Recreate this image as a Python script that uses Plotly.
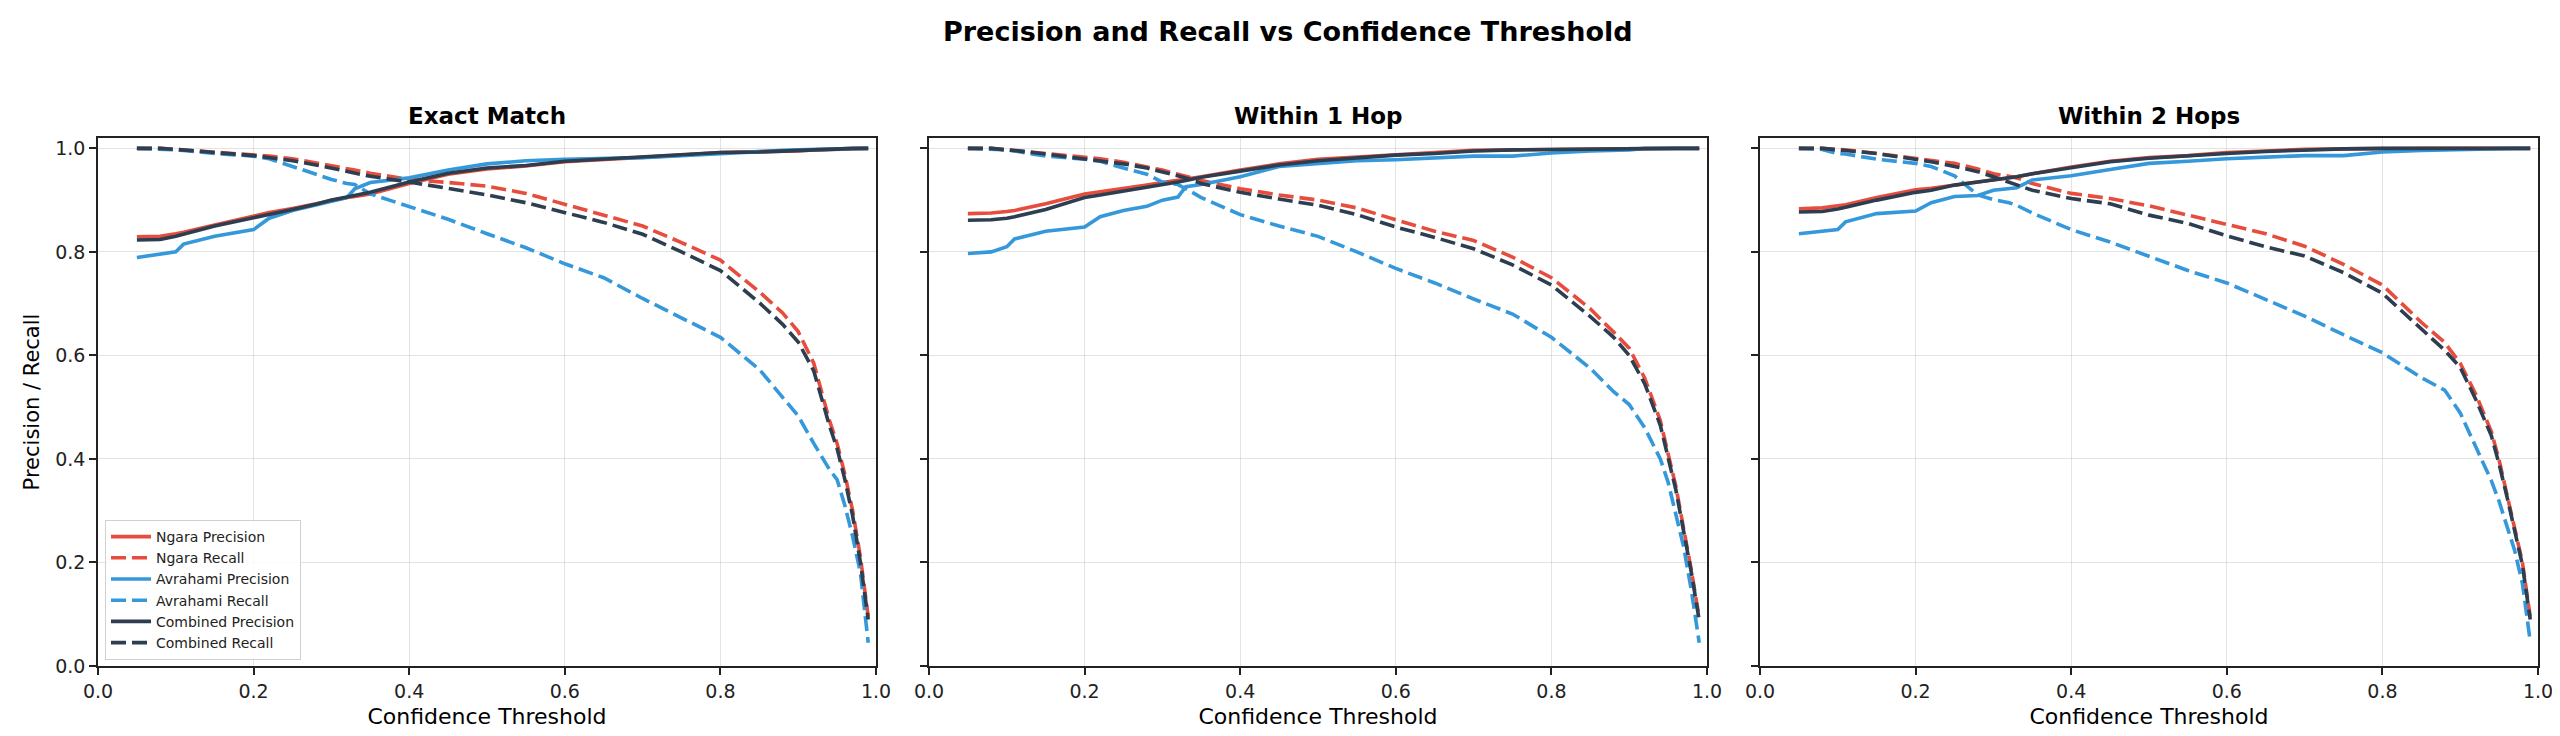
import plotly.graph_objects as go

# ---------------- data ----------------
thresholds = [0.05, 0.08, 0.10, 0.11, 0.15, 0.20, 0.22, 0.25, 0.28, 0.30, 0.32, 0.33, 0.35,
              0.40, 0.45, 0.50, 0.55, 0.60, 0.65, 0.70, 0.75, 0.80, 0.85, 0.88, 0.90,
              0.92, 0.94, 0.95, 0.96, 0.97, 0.98, 0.99]

panel_titles = ["Exact Match", "Within 1 Hop", "Within 2 Hops"]
series_names = ["Ngara Precision", "Ngara Recall", "Avrahami Precision", "Avrahami Recall",
                "Combined Precision", "Combined Recall"]

# Exact Match
exact_ngara_p = [0.829, 0.830, 0.835, 0.838, 0.852, 0.870, 0.876, 0.884, 0.893, 0.900, 0.905, 0.907, 0.912,
                 0.932, 0.950, 0.960, 0.966, 0.974, 0.978, 0.983, 0.987, 0.992, 0.993, 0.994, 0.995,
                 0.997, 0.998, 0.999, 1.0, 1.0, 1.0, 1.0]
exact_ngara_r = [1.0, 1.0, 0.998, 0.997, 0.993, 0.988, 0.985, 0.980, 0.972, 0.967, 0.962, 0.958, 0.952,
                 0.940, 0.934, 0.927, 0.913, 0.892, 0.872, 0.850, 0.818, 0.784, 0.723, 0.682, 0.646,
                 0.585, 0.475, 0.430, 0.370, 0.300, 0.210, 0.095]
exact_avr_p = [0.789, 0.795, 0.800, 0.815, 0.830, 0.843, 0.865, 0.880, 0.890, 0.897, 0.905, 0.922, 0.934,
               0.943, 0.958, 0.970, 0.976, 0.979, 0.980, 0.982, 0.986, 0.990, 0.995, 0.996, 0.997,
               0.998, 0.999, 1.0, 1.0, 1.0, 1.0, 1.0]
exact_avr_r = [1.0, 0.999, 0.997, 0.996, 0.990, 0.985, 0.980, 0.965, 0.950, 0.940, 0.932, 0.930, 0.912,
               0.888, 0.863, 0.835, 0.808, 0.777, 0.750, 0.710, 0.673, 0.635, 0.573, 0.520, 0.483,
               0.430, 0.380, 0.360, 0.310, 0.250, 0.180, 0.045]
exact_comb_p = [0.823, 0.824, 0.830, 0.834, 0.850, 0.866, 0.872, 0.882, 0.892, 0.900, 0.906, 0.909, 0.915,
                0.935, 0.952, 0.962, 0.967, 0.975, 0.979, 0.984, 0.988, 0.992, 0.993, 0.994, 0.995,
                0.997, 0.998, 0.999, 1.0, 1.0, 1.0, 1.0]
exact_comb_r = [1.0, 1.0, 0.998, 0.997, 0.992, 0.986, 0.982, 0.976, 0.968, 0.962, 0.955, 0.952, 0.946,
                0.935, 0.922, 0.910, 0.895, 0.876, 0.857, 0.834, 0.800, 0.764, 0.702, 0.660, 0.626,
                0.570, 0.465, 0.420, 0.360, 0.290, 0.200, 0.090]

# Within 1 Hop
hop1_ngara_p = [0.874, 0.875, 0.878, 0.880, 0.893, 0.912, 0.916, 0.922, 0.929, 0.934, 0.938, 0.940, 0.945,
                0.958, 0.970, 0.979, 0.983, 0.988, 0.992, 0.996, 0.997, 0.998, 0.999, 1.0, 1.0,
                1.0, 1.0, 1.0, 1.0, 1.0, 1.0, 1.0]
hop1_ngara_r = [1.0, 1.0, 0.997, 0.996, 0.990, 0.983, 0.980, 0.973, 0.965, 0.958, 0.950, 0.946, 0.938,
                0.922, 0.910, 0.900, 0.885, 0.862, 0.840, 0.822, 0.790, 0.750, 0.690, 0.645, 0.614,
                0.556, 0.474, 0.410, 0.347, 0.265, 0.184, 0.093]
hop1_avr_p = [0.797, 0.800, 0.810, 0.825, 0.840, 0.848, 0.868, 0.880, 0.888, 0.900, 0.906, 0.926, 0.930,
              0.945, 0.965, 0.971, 0.976, 0.978, 0.982, 0.985, 0.985, 0.991, 0.995, 0.996, 0.997,
              1.0, 1.0, 1.0, 1.0, 1.0, 1.0, 1.0]
hop1_avr_r = [1.0, 0.999, 0.997, 0.995, 0.985, 0.979, 0.975, 0.962, 0.950, 0.935, 0.930, 0.922, 0.905,
              0.872, 0.850, 0.830, 0.800, 0.768, 0.740, 0.709, 0.680, 0.635, 0.575, 0.530, 0.505,
              0.460, 0.400, 0.355, 0.295, 0.230, 0.145, 0.045]
hop1_comb_p = [0.861, 0.862, 0.865, 0.868, 0.882, 0.905, 0.910, 0.917, 0.925, 0.930, 0.935, 0.938, 0.944,
               0.956, 0.968, 0.976, 0.981, 0.987, 0.990, 0.995, 0.997, 0.998, 0.999, 1.0, 1.0,
               1.0, 1.0, 1.0, 1.0, 1.0, 1.0, 1.0]
hop1_comb_r = [1.0, 1.0, 0.997, 0.996, 0.989, 0.980, 0.977, 0.970, 0.962, 0.955, 0.947, 0.943, 0.932,
               0.915, 0.902, 0.890, 0.872, 0.848, 0.828, 0.806, 0.775, 0.736, 0.675, 0.635, 0.600,
               0.545, 0.465, 0.405, 0.340, 0.260, 0.180, 0.088]

# Within 2 Hops
hop2_ngara_p = [0.883, 0.885, 0.889, 0.891, 0.905, 0.920, 0.923, 0.929, 0.935, 0.939, 0.943, 0.945, 0.951,
                0.964, 0.975, 0.982, 0.986, 0.992, 0.995, 0.998, 0.999, 1.0, 1.0, 1.0, 1.0,
                1.0, 1.0, 1.0, 1.0, 1.0, 1.0, 1.0]
hop2_ngara_r = [1.0, 1.0, 0.998, 0.997, 0.990, 0.980, 0.976, 0.971, 0.960, 0.951, 0.946, 0.943, 0.932,
                0.913, 0.903, 0.889, 0.871, 0.853, 0.835, 0.811, 0.776, 0.736, 0.664, 0.625, 0.585,
                0.525, 0.453, 0.398, 0.334, 0.270, 0.200, 0.095]
hop2_avr_p = [0.835, 0.839, 0.843, 0.858, 0.874, 0.879, 0.895, 0.907, 0.909, 0.919, 0.922, 0.924, 0.939,
              0.947, 0.959, 0.971, 0.975, 0.980, 0.983, 0.986, 0.986, 0.993, 0.996, 0.997, 0.998,
              1.0, 1.0, 1.0, 1.0, 1.0, 1.0, 1.0]
hop2_avr_r = [1.0, 0.998, 0.990, 0.989, 0.979, 0.971, 0.965, 0.947, 0.910, 0.901, 0.895, 0.890, 0.875,
              0.843, 0.819, 0.792, 0.764, 0.740, 0.708, 0.676, 0.640, 0.605, 0.557, 0.533, 0.489,
              0.422, 0.358, 0.318, 0.270, 0.223, 0.159, 0.048]
hop2_comb_p = [0.877, 0.878, 0.883, 0.886, 0.900, 0.915, 0.919, 0.929, 0.935, 0.939, 0.943, 0.945, 0.951,
               0.963, 0.974, 0.981, 0.986, 0.990, 0.994, 0.997, 0.999, 1.0, 1.0, 1.0, 1.0,
               1.0, 1.0, 1.0, 1.0, 1.0, 1.0, 1.0]
hop2_comb_r = [1.0, 1.0, 0.997, 0.996, 0.990, 0.978, 0.974, 0.965, 0.955, 0.945, 0.935, 0.930, 0.919,
               0.903, 0.893, 0.871, 0.855, 0.831, 0.810, 0.792, 0.760, 0.720, 0.650, 0.610, 0.577,
               0.515, 0.445, 0.390, 0.328, 0.265, 0.195, 0.090]

panels = [
    [exact_ngara_p, exact_ngara_r, exact_avr_p, exact_avr_r, exact_comb_p, exact_comb_r],
    [hop1_ngara_p, hop1_ngara_r, hop1_avr_p, hop1_avr_r, hop1_comb_p, hop1_comb_r],
    [hop2_ngara_p, hop2_ngara_r, hop2_avr_p, hop2_avr_r, hop2_comb_p, hop2_comb_r],
]

# ---------------- styling ----------------
W, H = 2560, 736
colors = ["#e74c3c", "#e74c3c", "#3498db", "#3498db", "#2c3e50", "#2c3e50"]
dashes = ["solid", "15px,6px", "solid", "15px,6px", "solid", "15px,6px"]
FONT = "DejaVu Sans"

ax_px = [(90, 868), (921, 1699), (1752, 2530)]
y_top, y_bot = 130, 658
ydom = [(H - y_bot) / H, (H - y_top) / H]

fig = go.Figure()
for i, data in enumerate(panels):
    xa = "x" if i == 0 else f"x{i+1}"
    ya = "y" if i == 0 else f"y{i+1}"
    for j, vals in enumerate(data):
        fig.add_trace(go.Scatter(
            x=thresholds, y=vals, mode="lines", name=series_names[j],
            line=dict(color=colors[j], width=3.6, dash=dashes[j]),
            xaxis=xa, yaxis=ya, showlegend=(i == 0),
        ))

axis_common = dict(
    showline=True, linecolor="#222", linewidth=1.6, mirror=True,
    ticks="outside", ticklen=7, tickwidth=1.6, tickcolor="#222",
    showgrid=True, gridcolor="rgba(176,176,176,0.35)", gridwidth=1.4,
    zeroline=False, automargin=False,
    tickfont=dict(family=FONT, size=19, color="#222"),
)

layout = dict(
    template="none",
    width=W, height=H, paper_bgcolor="white", plot_bgcolor="white",
    margin=dict(l=0, r=0, t=0, b=0, autoexpand=False),
    font=dict(family=FONT, color="#222"),
    showlegend=True,
    legend=dict(x=97 / W, y=(H - 652) / H, xanchor="left", yanchor="bottom",
                bgcolor="rgba(255,255,255,0.85)", bordercolor="#d0d0d0", borderwidth=1,
                font=dict(family=FONT, size=14, color="#222"), tracegroupgap=0,
                itemwidth=40),
)
annotations = [dict(text="<b>Precision and Recall vs Confidence Threshold</b>",
                    x=0.5, y=1 - 23 / H, xref="paper", yref="paper",
                    xanchor="center", yanchor="middle", showarrow=False,
                    font=dict(family=FONT, size=27, color="#000"))]

for i, (x0, x1) in enumerate(ax_px):
    xk = "xaxis" if i == 0 else f"xaxis{i+1}"
    yk = "yaxis" if i == 0 else f"yaxis{i+1}"
    layout[xk] = dict(axis_common, domain=[x0 / W, x1 / W], range=[0, 1],
                      tickvals=[0, 0.2, 0.4, 0.6, 0.8, 1.0],
                      ticktext=["0.0", "0.2", "0.4", "0.6", "0.8", "1.0"],
                      anchor="y" if i == 0 else f"y{i+1}",
                      title=dict(text="Confidence Threshold", standoff=8,
                                 font=dict(family=FONT, size=22, color="#000")))
    ydict = dict(axis_common, domain=ydom, range=[0, 1.02],
                 tickvals=[0, 0.2, 0.4, 0.6, 0.8, 1.0],
                 ticktext=["0.0", "0.2", "0.4", "0.6", "0.8", "1.0"],
                 anchor="x" if i == 0 else f"x{i+1}",
                 showticklabels=(i == 0))
    if i == 0:
        ydict["title"] = dict(text="Precision / Recall", standoff=10,
                              font=dict(family=FONT, size=21, color="#000"))
    layout[yk] = ydict
    annotations.append(dict(text=f"<b>{panel_titles[i]}</b>",
                            x=(x0 + x1) / 2 / W, y=1 - 108 / H, xref="paper", yref="paper",
                            xanchor="center", yanchor="middle", showarrow=False,
                            font=dict(family=FONT, size=23, color="#000")))

layout["annotations"] = annotations
fig.update_layout(**layout)
fig.write_html("out.html")
